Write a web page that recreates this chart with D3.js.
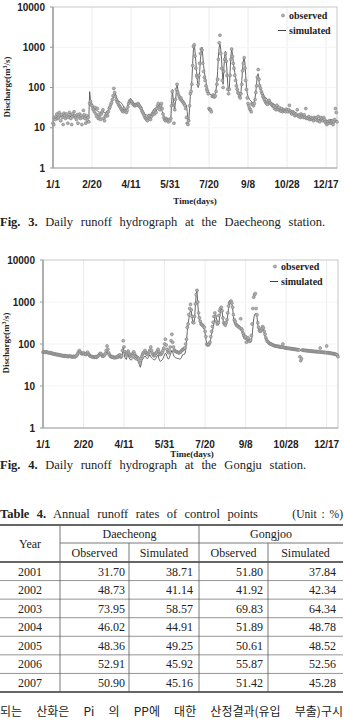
<!DOCTYPE html>
<html>
<head>
<meta charset="utf-8">
<script src="https://cdn.jsdelivr.net/npm/d3@7"></script>
<style>
  body { margin: 0; background: #fff; }
  svg { display: block; }
  .tick-lbl { font-family: "Liberation Sans", Arial, sans-serif; font-weight: bold; font-size: 10px; fill: #222; }
  .ax-title { font-family: "Liberation Serif", serif; font-weight: bold; font-size: 9px; fill: #222; }
  .legend { font-family: "Liberation Serif", serif; font-weight: bold; font-size: 10px; fill: #222; }
  .serif { font-family: "Liberation Serif", serif; fill: #222; }
</style>
</head>
<body>
<svg id="page" width="344" height="720"></svg>
<script>
// x ticks (day of year) and labels
var tickDays = [0, 50, 100, 150, 200, 250, 300, 350];
var tickLabels = ["1/1", "2/20", "4/11", "5/31", "7/20", "9/8", "10/28", "12/17"];
var yTicks = [1, 10, 100, 1000, 10000];

// Daecheong - daily discharge (m3/s)
var dcSim = [
  17,18,19,19,20,20,19,19,20,20, 21,20,20,19,19,20,21,20,19,19,
  20,20,19,19,20,21,20,20,19,19, 20,19,19,18,19,20,19,19,18,18,
  19,18,18,18,17,18,18,79,50,42, 38,35,33,31,29,28,27,26,25,25,
  24,24,23,23,24,25,24,23,24,26, 26,28,30,34,38,42,48,56,66,79,
  70,60,52,48,46,45,44,42,40,38, 35,32,30,28,28,30,36,44,50,53,
  52,48,45,42,41,40,40,39,40,41, 40,38,36,34,30,27,25,23,22,21,
  21,20,21,22,21,20,22,24,26,28, 30,27,25,28,32,35,38,40,35,30,
  25,22,20,18,17,16,16,16,15,15, 16,16,40,89,55,35,28,45,80,118,
  90,70,60,55,52,50,48,45,42,40, 38,35,25,15,14,30,60,89,150,400,
  900,1190,800,450,250,150,100,130,250,500, 800,1000,600,350,250,180,140,110,90,80,
  75,70,66,65,62,60,62,65,70,90, 130,250,600,1000,1200,900,500,250,120,300,
  600,800,500,250,120,80,100,250,600,900, 700,450,300,240,180,140,100,80,70,62,
  60,80,150,300,450,560,400,200,100,70, 60,55,50,48,45,44,42,42,45,55,
  80,130,200,220,150,100,90,85,75,70, 65,60,58,55,52,50,48,47,45,44,
  42,41,40,39,38,36,35,34,33,32, 31,30,30,29,29,28,28,28,28,27,
  27,27,26,26,25,25,26,25,25,24, 24,24,22,22,21,20,20,19,19,19,
  18,18,18,18,18,18,17,17,17,17, 17,17,18,18,18,17,17,17,17,17,
  16,16,16,16,17,17,16,16,16,16, 16,15,15,15,15,16,16,16,15,15,
  15,14,15,15,15
];
var dcObs = [
  13,12,18,16,19,22,17,18,24,20, 15,21,18,12,23,20,17,22,19,13,
  18,24,21,17,12,22,19,25,20,18, 16,21,13,19,22,17,20,12,18,27,
  21,17,13,20,15,18,14,40,45,38, 35,30,28,25,32,22,19,30,17,21,
  18,16,22,25,28,17,15,19,21,23, 20,25,30,33,38,42,50,62,95,75,
  60,50,45,42,38,35,33,30,28,26, 25,30,27,26,24,27,33,40,45,48,
  46,44,40,38,36,35,37,38,36,40, 37,34,32,30,26,24,22,20,18,17,
  16,15,18,20,17,16,19,22,21,25, 22,28,24,30,35,40,33,28,35,40,
  30,22,18,16,15,17,16,15,14,16, 15,17,35,80,40,13,28,50,90,120,
  75,65,58,52,55,48,45,42,40,36, 30,18,13,12,15,35,70,80,120,350,
  1050,1150,600,300,200,180,120,200,400,700, 900,850,400,250,180,150,110,90,80,70,
  30,28,28,25,60,65,60,58,62,80, 120,160,500,1300,2000,700,300,150,100,250,
  500,700,450,200,90,70,90,200,500,900, 600,400,300,200,150,110,90,75,70,60,
  55,70,120,260,400,550,300,150,90,55, 40,35,30,28,25,40,38,35,40,50,
  75,110,180,280,160,110,95,80,70,60, 55,50,45,42,40,38,45,48,42,40,
  38,36,34,35,30,32,28,36,30,28, 32,27,26,30,25,28,27,26,25,29,
  27,25,28,36,26,24,22,25,24,23, 20,22,21,28,20,19,21,18,22,20,
  19,18,21,18,30,17,18,17,19,16, 17,18,16,17,15,18,17,16,18,15,
  19,15,14,18,16,17,15,18,16,14, 13,12,14,13,15,14,13,14,15,12,
  14,16,30,24,14
];

// Gongju - daily discharge (m3/s)
var gjSim = [
  65,65,64,64,63,63,62,62,61,60, 60,59,59,58,58,57,57,56,56,55,
  55,55,54,54,54,53,53,53,52,52, 52,52,52,51,51,51,51,50,50,50,
  50,50,51,52,58,70,66,62,60,60, 62,60,58,57,58,62,60,57,54,52,
  50,49,49,48,48,48,48,49,50,52, 55,58,54,50,49,50,51,54,60,65,
  58,52,50,48,48,47,47,46,46,45, 45,45,46,46,47,47,46,46,60,88,
  60,48,44,43,55,60,48,44,42,42, 43,45,48,44,42,42,41,40,38,32,
  28,32,40,44,46,50,52,48,46,45, 48,52,55,50,47,45,43,42,42,44,
  48,52,55,45,40,39,40,42,45,50, 55,60,58,50,45,44,48,55,62,70,
  65,55,50,48,47,46,45,45,44,44, 45,48,55,56,56,58,70,110,200,300,
  400,550,620,600,420,320,300,400,800,1500, 1850,900,500,380,320,290,280,270,250,220,
  180,130,105,100,100,105,110,130,170,200, 250,320,420,500,420,320,280,300,450,600,
  720,600,400,300,280,270,290,350,500,700, 900,1000,1000,900,700,450,320,300,280,270,
  260,250,240,230,220,200,180,150,140,135, 130,130,125,125,120,115,110,115,150,250,
  400,500,530,520,450,300,220,200,190,200, 220,250,230,180,150,130,115,110,105,100,
  98,95,93,92,90,88,87,86,85,84, 83,82,81,80,80,79,79,78,78,77,
  77,76,76,75,75,74,74,74,73,73, 73,72,72,72,71,71,71,70,70,70,
  70,70,69,69,69,69,68,68,68,68, 68,67,67,67,67,66,66,66,66,66,
  65,65,65,65,64,64,64,64,63,63, 63,63,62,62,62,61,61,60,60,59,
  59,58,57,56,55
];
var gjObs = [
  64,66,65,63,65,64,62,63,61,62, 60,61,58,59,57,58,56,57,55,56,
  54,55,53,54,52,53,51,53,52,51, 52,50,51,52,50,51,49,50,51,49,
  50,52,55,60,66,70,64,60,58,60, 62,58,57,56,60,64,58,55,52,51,
  50,50,49,48,49,50,48,50,52,55, 58,60,57,52,51,53,55,60,70,90,
  75,62,56,52,50,49,50,48,47,48, 48,49,50,52,54,55,50,52,70,120,
  85,65,58,55,62,68,60,55,52,50, 55,60,65,58,52,50,48,47,45,38,
  35,45,52,58,62,65,70,62,58,56, 60,65,72,85,70,60,55,52,55,60,
  62,68,75,65,58,56,58,62,70,80, 100,130,95,75,65,62,70,85,120,170,
  110,85,72,68,66,65,64,62,62,63, 65,70,72,75,78,80,100,130,250,300,
  500,700,880,650,450,330,320,450,900,1500, 1900,1000,550,420,350,300,290,280,260,250,
  200,150,100,95,95,100,110,150,200,260, 330,450,550,450,350,300,320,480,620,700,
  750,620,420,320,300,280,320,380,550,800, 950,1000,1050,950,750,500,380,350,300,280,
  270,260,250,240,400,230,210,180,160,140, 150,110,130,140,120,115,125,160,300,700,
  1300,1500,1600,700,500,320,250,210,200,210, 230,260,240,200,170,140,125,115,110,105,
  102,100,98,96,94,92,90,90,89,88, 88,87,86,85,85,84,100,83,82,81,
  80,80,79,79,78,78,77,77,76,76, 75,75,74,74,73,73,72,50,40,45,
  72,71,71,70,70,70,69,69,69,68, 68,68,67,67,67,66,66,66,66,65,
  65,65,80,64,64,64,63,63,63,62, 90,62,62,61,61,60,60,59,59,58,
  58,57,56,55,50
];

// Table 4
var years = [2001, 2002, 2003, 2004, 2005, 2006, 2007];
var dcObsRate = ["31.70", "48.73", "73.95", "46.02", "48.36", "52.91", "50.90"];
var dcSimRate = ["38.71", "41.14", "58.57", "44.91", "49.25", "45.92", "45.16"];
var gjObsRate = ["51.80", "41.92", "69.83", "51.89", "50.61", "55.87", "51.42"];
var gjSimRate = ["37.84", "42.34", "64.34", "48.78", "48.52", "52.56", "45.28"];

var svg = d3.select('#page');
svg.append('rect').attr('width', 344).attr('height', 720).attr('fill', '#fff');

function drawChart(o) {
  var x = d3.scaleLinear().domain([0, 364]).range([o.left, o.right]);
  var y = d3.scaleLog().domain([1, 10000]).range([o.bottom, o.top]);
  var g = svg.append('g');

  // light vertical grid
  g.selectAll('.vg').data(tickDays.slice(1)).enter().append('line')
    .attr('x1', d => x(d)).attr('x2', d => x(d))
    .attr('y1', o.top).attr('y2', o.bottom)
    .attr('stroke', '#ececec').attr('stroke-width', 1);
  g.selectAll('.hg').data(yTicks.slice(1, 4)).enter().append('line')
    .attr('x1', o.left).attr('x2', o.right)
    .attr('y1', d => y(d)).attr('y2', d => y(d))
    .attr('stroke', '#f4f4f4').attr('stroke-width', 1);

  // frame
  g.append('rect')
    .attr('x', o.left).attr('y', o.top)
    .attr('width', o.right - o.left).attr('height', o.bottom - o.top)
    .attr('fill', 'none').attr('stroke', '#c8c8c8').attr('stroke-width', 1);
  g.append('line')
    .attr('x1', o.left).attr('x2', o.left).attr('y1', o.top).attr('y2', o.bottom)
    .attr('stroke', '#999').attr('stroke-width', 1.4);
  g.append('line')
    .attr('x1', o.left).attr('x2', o.right).attr('y1', o.bottom).attr('y2', o.bottom)
    .attr('stroke', '#aaa').attr('stroke-width', 1.2);

  // y ticks
  g.selectAll('.yt').data(yTicks).enter().append('line')
    .attr('x1', o.left - 3).attr('x2', o.left)
    .attr('y1', d => y(d)).attr('y2', d => y(d))
    .attr('stroke', '#999');
  g.selectAll('.yl').data(yTicks).enter().append('text')
    .attr('class', 'tick-lbl')
    .attr('x', o.yLabelX).attr('y', d => y(d) + 3.6)
    .attr('text-anchor', 'end')
    .text(d => d);

  // x ticks
  g.selectAll('.xl').data(tickDays).enter().append('text')
    .attr('class', 'tick-lbl')
    .attr('x', d => x(d)).attr('y', o.bottom + 20)
    .attr('text-anchor', 'middle')
    .text((d, i) => tickLabels[i]);

  // simulated line
  var line = d3.line().x((d, i) => x(i)).y(d => y(d));
  g.append('path').datum(o.sim)
    .attr('d', line)
    .attr('fill', 'none').attr('stroke', '#555').attr('stroke-width', 0.9);

  // observed points
  g.selectAll('.pt').data(o.obs).enter().append('circle')
    .attr('cx', (d, i) => x(i)).attr('cy', d => y(d))
    .attr('r', 1.5)
    .attr('fill', '#b0b0b0').attr('stroke', '#777').attr('stroke-width', 0.5);

  // axis titles
  g.append('text').attr('class', 'ax-title')
    .attr('transform', 'translate(' + o.yTitleX + ',' + o.yTitleY + ') rotate(-90)')
    .attr('text-anchor', 'middle')
    .html('Discharge(m<tspan dy="-3" font-size="6">3</tspan><tspan dy="3">/s)</tspan>');
  g.append('text').attr('class', 'ax-title')
    .attr('x', o.xTitleX).attr('y', o.xTitleY)
    .attr('text-anchor', 'middle')
    .text('Time(days)');

  // legend
  g.append('circle').attr('cx', o.legX).attr('cy', o.legY - 3.5).attr('r', 1.6)
    .attr('fill', '#b0b0b0').attr('stroke', '#777').attr('stroke-width', 0.5);
  g.append('text').attr('class', 'legend').attr('x', o.legX + 6).attr('y', o.legY).text('observed');
  g.append('line').attr('x1', o.legX - 5).attr('x2', o.legX + 3)
    .attr('y1', o.legY + 11.5).attr('y2', o.legY + 11.5)
    .attr('stroke', '#444').attr('stroke-width', 1);
  g.append('text').attr('class', 'legend').attr('x', o.legX + 6).attr('y', o.legY + 15).text('simulated');
}

drawChart({ left: 53, right: 337, top: 7, bottom: 168, sim: dcSim, obs: dcObs,
  yLabelX: 45, yTitleX: 10, yTitleY: 87, xTitleX: 195, xTitleY: 204, legX: 283, legY: 19 });
drawChart({ left: 43, right: 338, top: 260, bottom: 428, sim: gjSim, obs: gjObs,
  yLabelX: 35, yTitleX: 9, yTitleY: 343, xTitleX: 192, xTitleY: 457, legX: 275, legY: 270 });

// justify a line of text to a target width by word spacing
function justify(sel, target) {
  var n = sel.node();
  var w = n.getComputedTextLength();
  var spaces = (n.textContent.match(/ /g) || []).length;
  if (spaces > 0) sel.attr('word-spacing', (target - w) / spaces);
}

var cap1 = svg.append('text').attr('class', 'serif').attr('x', 0).attr('y', 226).attr('font-size', 12.5);
cap1.append('tspan').attr('font-weight', 'bold').text('Fig. 3.');
cap1.append('tspan').text(' Daily runoff hydrograph at the Daecheong station.');
justify(cap1, 325);

var cap2 = svg.append('text').attr('class', 'serif').attr('x', 0).attr('y', 469).attr('font-size', 12.5);
cap2.append('tspan').attr('font-weight', 'bold').text('Fig. 4.');
cap2.append('tspan').text(' Daily runoff hydrograph at the Gongju station.');
justify(cap2, 306);

// Table 4
var tt = svg.append('text').attr('class', 'serif').attr('x', 0).attr('y', 518).attr('font-size', 12.5);
tt.append('tspan').attr('font-weight', 'bold').text('Table 4.');
tt.append('tspan').text(' Annual runoff rates of control points');
justify(tt, 258);
svg.append('text').attr('class', 'serif').attr('x', 343).attr('y', 518)
  .attr('font-size', 11.5).attr('text-anchor', 'end').attr('word-spacing', 2)
  .text('(Unit : %)');

var tTop = 525, h1 = 543, h2 = 562, tBot = 692;
var rowH = (tBot - h2) / years.length;
var colX = [0, 60, 129, 199, 268, 343];
var tbl = svg.append('g');
tbl.append('line').attr('x1', 0).attr('x2', 343).attr('y1', tTop).attr('y2', tTop).attr('stroke', '#333').attr('stroke-width', 1.6);
tbl.append('line').attr('x1', colX[1]).attr('x2', 343).attr('y1', h1).attr('y2', h1).attr('stroke', '#555').attr('stroke-width', 0.8);
tbl.append('line').attr('x1', 0).attr('x2', 343).attr('y1', h2).attr('y2', h2).attr('stroke', '#333').attr('stroke-width', 1.6);
tbl.append('line').attr('x1', 0).attr('x2', 343).attr('y1', tBot).attr('y2', tBot).attr('stroke', '#333').attr('stroke-width', 1.6);
tbl.selectAll('.rl').data(years.slice(1)).enter().append('line')
  .attr('x1', 0).attr('x2', 343)
  .attr('y1', (d, i) => h2 + rowH * (i + 1)).attr('y2', (d, i) => h2 + rowH * (i + 1))
  .attr('stroke', '#666').attr('stroke-width', 0.7);
[colX[1], colX[3]].forEach(function (cx) {
  tbl.append('line').attr('x1', cx).attr('x2', cx).attr('y1', tTop).attr('y2', tBot).attr('stroke', '#555').attr('stroke-width', 0.8);
});
[colX[2], colX[4]].forEach(function (cx) {
  tbl.append('line').attr('x1', cx).attr('x2', cx).attr('y1', h1).attr('y2', tBot).attr('stroke', '#555').attr('stroke-width', 0.8);
});

function cell(txt, xx, yy, anchor) {
  tbl.append('text').attr('class', 'serif').attr('font-size', 12)
    .attr('x', xx).attr('y', yy).attr('text-anchor', anchor).text(txt);
}
cell('Year', 30, 548, 'middle');
cell('Daecheong', (colX[1] + colX[3]) / 2, 538, 'middle');
cell('Gongjoo', (colX[3] + colX[5]) / 2, 538, 'middle');
['Observed', 'Simulated', 'Observed', 'Simulated'].forEach(function (t, i) {
  cell(t, (colX[i + 1] + colX[i + 2]) / 2, 557, 'middle');
});
years.forEach(function (yr, i) {
  var by = h2 + rowH * i + rowH / 2 + 4.3;
  cell(yr, 30, by, 'middle');
  cell(dcObsRate[i], colX[2] - 4, by, 'end');
  cell(dcSimRate[i], colX[3] - 6, by, 'end');
  cell(gjObsRate[i], colX[4] - 5, by, 'end');
  cell(gjSimRate[i], colX[5] - 7, by, 'end');
});

// body text line at the page bottom
var kr = svg.append('text').attr('x', 0).attr('y', 716)
  .attr('font-family', '"Noto Sans CJK KR", sans-serif').attr('font-size', 12).attr('fill', '#222')
  .text('되는 산화은 Pi 의 PP에 대한 산정결과(유입 부출)구시');
justify(kr, 343);
</script>
</body>
</html>
